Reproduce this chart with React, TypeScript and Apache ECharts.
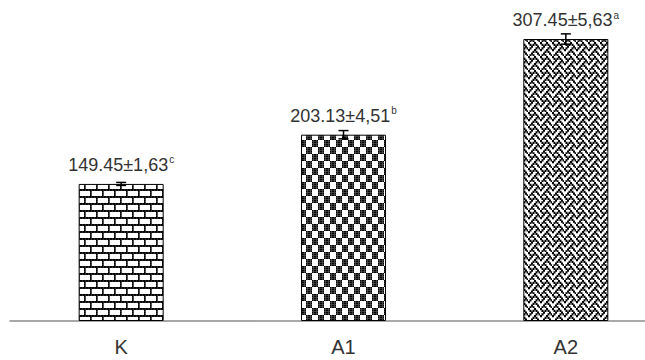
import React, { useEffect, useRef } from 'react';
import * as echarts from 'echarts';

const categories = ['K', 'A1', 'A2'];
const means = [149.45, 203.13, 307.45];
const errors = [1.63, 4.51, 5.63];
const letters = ['c', 'b', 'a'];

// 8x8 hatch bitmaps (style only)
const BRICK = [0xff, 0x80, 0x80, 0x80, 0xff, 0x08, 0x08, 0x08];
const CHECKER = [0xf0, 0xf0, 0xf0, 0xf0, 0x0f, 0x0f, 0x0f, 0x0f];
const WEAVE = [0x88, 0x54, 0x22, 0x45, 0x88, 0x14, 0x22, 0x51];

function makePattern(bits: number[], sx: number, sy: number, grow: number) {
  const w = Math.round(8 * sx);
  const h = Math.round(8 * sy);
  const c = document.createElement('canvas');
  c.width = w;
  c.height = h;
  const ctx = c.getContext('2d')!;
  ctx.fillStyle = '#fff';
  ctx.fillRect(0, 0, w, h);
  ctx.fillStyle = '#000';
  for (let r = 0; r < 8; r++) {
    for (let col = 0; col < 8; col++) {
      if ((bits[r] >> (7 - col)) & 1) ctx.fillRect(col * sx, r * sy, sx + grow, sy + grow);
    }
  }
  return { image: c.toDataURL(), repeat: 'repeat', imageWidth: w, imageHeight: h } as any;
}

const FONT = '"Liberation Sans", Arial, sans-serif';

export default function App() {
  const ref = useRef<HTMLDivElement>(null);
  useEffect(() => {
    if (!ref.current) return;
    const chart = echarts.init(ref.current, undefined, { renderer: 'svg' });
    const patterns = [
      makePattern(BRICK, 1.5, 1.75, 0.2),
      makePattern(CHECKER, 1.5, 1.75, 0),
      makePattern(WEAVE, 1.5, 1.75, 0.5),
    ];
    chart.setOption({
      animation: false,
      grid: { left: 10, top: 0, width: 667, height: 321 },
      xAxis: {
        type: 'category',
        data: categories,
        axisLine: { lineStyle: { color: '#8c8c8c', width: 1.5 } },
        axisTick: { show: false },
        axisLabel: { fontSize: 20, color: '#333', fontFamily: FONT, margin: 16 },
      },
      yAxis: { type: 'value', min: 0, max: 350, show: false, splitLine: { show: false } },
      series: [
        {
          type: 'bar',
          barWidth: 85,
          data: means.map((m, i) => ({
            value: m,
            itemStyle: { color: patterns[i], borderColor: '#000', borderWidth: 1 },
          })),
          label: {
            show: true,
            position: 'top',
            distance: 9,
            formatter: (p: any) => {
              const i = p.dataIndex;
              return `{v|${means[i].toFixed(2)}±${errors[i].toFixed(2).replace('.', ',')}}{s|${letters[i]}}`;
            },
            rich: {
              v: { fontSize: 18, color: '#333', fontFamily: FONT, lineHeight: 20 },
              s: { fontSize: 10, color: '#333', fontFamily: FONT, lineHeight: 20, verticalAlign: 'top', padding: [0, 0, 8, 1] },
            },
          },
        },
        {
          type: 'custom',
          z: 10,
          data: means.map((m, i) => [i, m - errors[i], m + errors[i]]),
          renderItem: (params: any, api: any) => {
            const top = api.coord([api.value(0), api.value(2)]);
            const bot = api.coord([api.value(0), api.value(1)]);
            const hw = 5;
            const st = { stroke: '#000', lineWidth: 1.5 };
            return {
              type: 'group',
              children: [
                { type: 'line', shape: { x1: top[0], y1: top[1], x2: bot[0], y2: bot[1] }, style: st },
                { type: 'line', shape: { x1: top[0] - hw, y1: top[1], x2: top[0] + hw, y2: top[1] }, style: st },
                { type: 'line', shape: { x1: bot[0] - hw, y1: bot[1], x2: bot[0] + hw, y2: bot[1] }, style: st },
              ],
            };
          },
        },
      ],
    });
    return () => chart.dispose();
  }, []);
  return (
    <div style={{ width: 645, height: 360, position: 'absolute', left: 0, top: 0, overflow: 'hidden', background: '#fff' }}>
      <div ref={ref} style={{ width: 700, height: 360 }} />
    </div>
  );
}
